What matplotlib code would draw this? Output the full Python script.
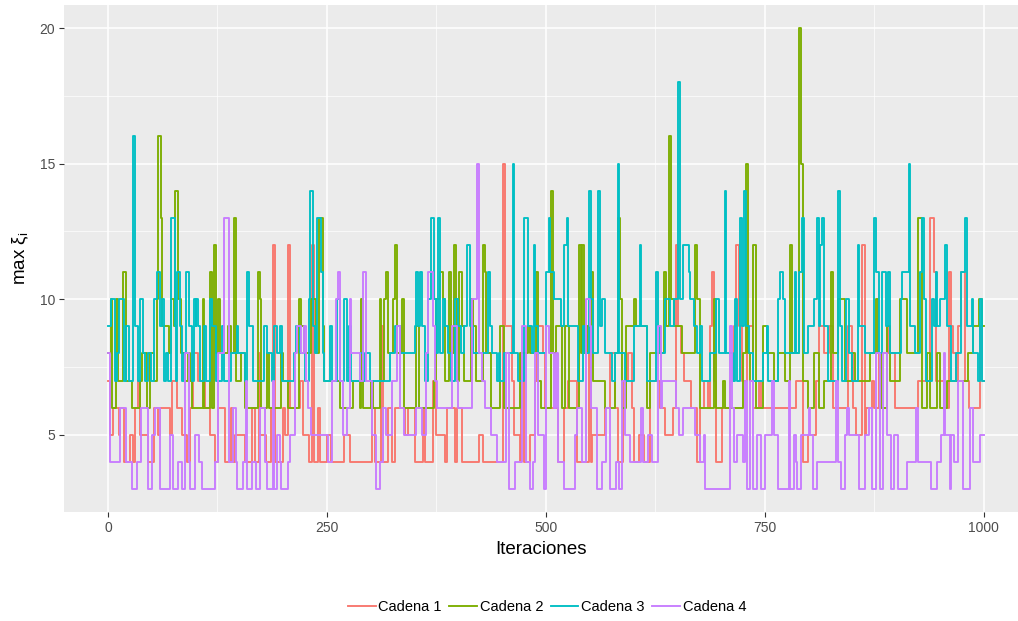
import matplotlib
matplotlib.use('Agg')
import matplotlib.pyplot as plt

plt.rcParams['font.family'] = ['Liberation Sans', 'DejaVu Sans']
plt.rcParams['mathtext.fontset'] = 'custom'
plt.rcParams['mathtext.rm'] = 'Liberation Sans'
plt.rcParams['mathtext.it'] = 'Liberation Sans:italic'

n_iter = 1000
nombres = ['Cadena 1', 'Cadena 2', 'Cadena 3', 'Cadena 4']
colores = ['#F8766D', '#7CAE00', '#00BFC4', '#C77CFF']
x_ticks = [0, 250, 500, 750, 1000]
y_ticks = [5, 10, 15, 20]

# each chain as (iteration where the value changes, new value)
cadena1 = [(0, 7), (2, 5), (6, 6), (12, 5), (14, 6), (18, 4), (25, 5), (29, 4), (31, 6), (34, 7), (37, 5), (46, 4),
           (52, 6), (57, 5), (59, 6), (71, 5), (73, 7), (79, 6), (84, 5), (90, 4),
           (94, 6), (97, 8), (103, 7), (111, 6), (117, 5), (122, 4), (126, 6), (134, 4), (140, 6), (143, 4), (145, 5),
           (156, 4), (164, 6), (168, 4), (172, 8), (174, 5), (180, 4), (186, 6), (188, 12),
           (191, 4), (200, 6), (202, 5), (206, 12), (208, 6), (219, 7), (223, 5), (229, 4), (233, 12), (235, 4),
           (240, 6), (242, 4), (250, 5), (255, 4), (270, 5), (276, 4),
           (301, 6), (305, 4), (312, 9), (314, 4), (320, 6), (324, 4), (328, 6), (339, 5), (343, 6), (350, 4),
           (360, 6), (362, 4), (371, 7), (375, 5),
           (385, 4), (387, 6), (396, 4), (398, 6), (404, 4), (424, 5), (428, 4), (451, 15), (453, 9), (461, 7),
           (464, 5), (470, 4), (472, 8), (475, 4),
           (482, 5), (487, 7), (490, 9), (497, 8), (499, 6), (514, 4), (521, 6), (525, 7), (535, 4), (549, 9),
           (551, 4), (553, 5), (567, 6), (573, 8),
           (579, 6), (582, 4), (588, 7), (594, 8), (598, 6), (601, 4), (606, 5), (612, 4), (619, 7), (630, 6),
           (636, 5), (645, 6), (648, 12), (651, 9), (654, 8), (658, 7), (666, 6), (673, 4),
           (676, 6), (681, 7), (685, 6), (687, 9), (690, 11), (692, 7), (694, 4), (701, 6), (710, 7), (715, 9),
           (717, 12), (720, 9), (724, 7), (730, 9), (736, 6), (743, 7), (746, 6),
           (786, 7), (794, 4), (799, 5), (808, 7), (812, 9), (818, 8), (823, 9), (828, 6), (845, 9), (849, 8),
           (851, 6), (854, 5), (861, 12), (864, 5),
           (866, 6), (872, 7), (875, 6), (880, 8), (889, 9), (891, 8), (898, 6), (925, 7), (938, 13), (943, 11),
           (945, 7), (955, 6), (960, 11), (963, 9), (965, 8), (968, 7), (971, 9), (974, 11), (979, 7), (983, 6),
           (996, 9), (998, 7)]

cadena2 = [(0, 8), (3, 10), (5, 6), (9, 10), (11, 7), (17, 11), (21, 7), (27, 6), (36, 7), (39, 8), (44, 6), (48, 8),
           (52, 7), (56, 10), (57, 16), (60, 13), (62, 9), (70, 8), (72, 10), (75, 9), (77, 14), (80, 10), (83, 8),
           (88, 7), (91, 8),
           (94, 7), (96, 6), (108, 10), (110, 6), (117, 11), (119, 6), (121, 12), (123, 8), (126, 10), (128, 8),
           (137, 9), (140, 8), (144, 13), (146, 7), (152, 8), (156, 6), (171, 11), (173, 10), (175, 6), (182, 8),
           (184, 6),
           (197, 8), (200, 7), (206, 6), (218, 10), (220, 9), (224, 8), (232, 10), (237, 8), (241, 13), (245, 9),
           (247, 7), (265, 6), (280, 7),
           (288, 6), (289, 10), (291, 6), (300, 7), (303, 6), (310, 10), (312, 7), (315, 10), (317, 11), (320, 8),
           (325, 10), (328, 12), (330, 8), (336, 10), (338, 6), (352, 9), (355, 6), (372, 7), (375, 10), (379, 11),
           (383, 10),
           (385, 7), (389, 11), (392, 8), (395, 12), (397, 10), (399, 7), (401, 11), (404, 9), (407, 7), (414, 10),
           (417, 9), (420, 7), (428, 12), (431, 11), (432, 8), (437, 6), (448, 9), (452, 6), (470, 8), (480, 9),
           (482, 8), (489, 11), (491, 7), (494, 6), (506, 14), (508, 8), (512, 9), (518, 6), (522, 9), (526, 6),
           (538, 12), (540, 8), (541, 12), (544, 8), (547, 9), (552, 11), (554, 7), (567, 6),
           (579, 8), (582, 13), (585, 10), (587, 6), (592, 9), (600, 10), (603, 9), (615, 6), (619, 8), (635, 11),
           (637, 9), (641, 16), (643, 10), (646, 9), (655, 8), (670, 12), (673, 10),
           (676, 6), (692, 10), (694, 6), (702, 7), (705, 6), (725, 8), (728, 15), (731, 8), (733, 7), (737, 12),
           (740, 6), (748, 9), (752, 8), (760, 7), (765, 8),
           (773, 7), (779, 12), (781, 8), (789, 20), (791, 15), (793, 7), (799, 6), (806, 8), (812, 6), (817, 7),
           (826, 11), (828, 8), (833, 10), (842, 7), (850, 8), (853, 7),
           (870, 8), (877, 10), (879, 8), (883, 6), (889, 9), (893, 7), (904, 10), (912, 8), (925, 13), (929, 6),
           (935, 8), (939, 6), (946, 8), (950, 6), (958, 7), (982, 8), (988, 9), (995, 10), (998, 9)]

cadena3 = [(0, 9), (4, 10), (8, 7), (10, 8), (13, 10), (18, 7), (21, 9), (24, 7), (28, 16), (31, 9), (34, 7), (36, 10),
           (40, 8), (42, 7), (46, 8), (49, 7), (52, 10), (56, 11), (59, 9), (62, 10), (64, 7), (66, 8), (69, 7),
           (72, 13), (76, 9), (78, 7), (79, 11), (82, 9), (84, 7), (87, 8), (89, 11), (93, 9), (96, 7), (98, 10),
           (100, 9), (101, 10), (103, 9), (105, 7), (110, 9), (112, 7), (117, 10), (119, 9), (123, 7), (130, 9),
           (133, 7), (141, 8), (147, 9), (149, 8), (156, 7), (159, 11), (161, 9), (166, 7), (178, 9), (182, 8),
           (187, 7),
           (190, 9), (193, 8), (196, 9), (199, 7), (212, 8), (215, 9), (219, 8), (225, 7), (229, 10), (231, 14),
           (234, 9), (236, 8), (239, 13), (243, 11), (245, 8), (247, 7), (254, 9), (256, 7), (261, 10), (265, 7),
           (269, 10), (273, 7), (275, 9), (277, 7),
           (288, 8), (291, 7), (294, 8), (299, 7), (322, 8), (328, 9), (333, 8), (350, 9), (352, 11), (354, 9),
           (356, 11), (358, 9), (362, 7), (365, 10), (369, 13), (372, 10), (374, 8), (377, 13), (379, 8), (382, 10),
           (385, 9), (388, 8), (392, 7), (396, 10), (400, 9), (403, 8), (406, 9), (410, 12), (413, 9), (417, 8),
           (434, 11), (436, 9), (438, 8), (444, 7), (446, 8), (448, 7), (452, 8), (462, 15), (464, 8), (468, 7),
           (475, 13), (479, 9),
           (484, 8), (486, 12), (488, 9), (491, 8), (500, 11), (503, 13), (505, 11), (509, 10), (517, 9), (521, 12),
           (524, 13), (525, 9), (537, 7), (542, 9), (545, 8), (549, 14), (551, 10), (554, 8), (560, 14), (562, 9),
           (564, 10), (567, 8), (576, 7),
           (579, 8), (582, 15), (584, 8), (590, 7), (600, 9), (607, 12), (609, 9), (615, 7), (626, 11), (628, 9),
           (630, 8), (636, 10), (642, 9), (646, 10), (651, 18), (653, 10), (656, 12), (663, 11), (665, 10), (669, 9),
           (672, 8),
           (676, 9), (678, 7), (687, 8), (694, 10), (698, 8), (704, 14), (706, 8), (714, 7), (716, 10), (718, 7),
           (722, 13), (724, 9), (726, 14), (729, 9), (732, 8), (736, 7), (748, 8), (752, 9), (754, 7), (765, 10),
           (767, 11), (771, 10),
           (773, 8), (784, 11), (786, 8), (789, 11), (792, 13), (795, 8), (799, 9), (806, 10), (809, 13), (812, 9),
           (813, 12), (815, 13), (817, 9), (822, 7), (834, 14), (836, 9), (838, 7), (843, 10), (846, 8), (849, 7),
           (856, 12), (858, 9), (864, 8),
           (875, 13), (877, 11), (880, 8), (884, 11), (888, 9), (891, 11), (893, 8), (905, 10), (907, 11), (914, 15),
           (916, 9), (921, 8), (927, 11), (929, 13), (932, 10), (934, 7), (941, 10), (943, 9), (945, 11), (947, 9),
           (950, 10), (956, 12), (958, 9), (962, 7), (968, 8), (974, 11), (979, 13), (981, 9), (986, 10), (988, 8),
           (993, 7), (996, 10), (998, 7)]

cadena4 = [(0, 8), (2, 4), (14, 6), (20, 4), (27, 3), (33, 4), (38, 6), (46, 3), (50, 5), (54, 6), (59, 3), (71, 5),
           (74, 3), (80, 4), (84, 3), (88, 8), (92, 4),
           (94, 3), (99, 5), (104, 4), (107, 3), (122, 4), (126, 8), (132, 13), (138, 4), (143, 6), (146, 4),
           (147, 3), (154, 4), (157, 7), (159, 3), (164, 4), (169, 3), (173, 6), (179, 4), (181, 3), (188, 7),
           (190, 3), (193, 5), (196, 4), (198, 3), (205, 4), (208, 5), (213, 8), (216, 9), (220, 8), (224, 9),
           (226, 7), (228, 6), (232, 5), (251, 4), (256, 7), (260, 10), (263, 11), (265, 7), (268, 5), (273, 6),
           (276, 10), (278, 8),
           (288, 7), (291, 11), (295, 7), (302, 5), (306, 3), (310, 4), (314, 6), (317, 5), (324, 7), (330, 9),
           (333, 6), (338, 5), (352, 6), (358, 5), (363, 8), (365, 11), (371, 9), (373, 7), (376, 6),
           (393, 9), (398, 7), (400, 6), (416, 10), (421, 15), (424, 8), (427, 7), (430, 6), (437, 5), (444, 4),
           (454, 8), (458, 3), (465, 4), (473, 9), (477, 4),
           (482, 3), (485, 4), (488, 8), (491, 5), (498, 3), (500, 9), (504, 8), (509, 6), (512, 8), (514, 4),
           (521, 3), (533, 5), (536, 6), (541, 4), (546, 10), (550, 9), (552, 6), (558, 3), (564, 4), (569, 6),
           (573, 3), (580, 4), (584, 3), (587, 7), (590, 5), (596, 4), (609, 6), (611, 4), (616, 5), (621, 4),
           (628, 9), (631, 6), (633, 7), (649, 6), (652, 5), (656, 6), (670, 5),
           (676, 4), (680, 5), (682, 3), (710, 9), (712, 6), (715, 4), (718, 5), (725, 4), (727, 7), (730, 3),
           (733, 7), (737, 3), (741, 5), (746, 3), (750, 5), (758, 7), (760, 5), (765, 3),
           (777, 7), (779, 3), (783, 5), (785, 4), (787, 3), (791, 5), (800, 6), (802, 5), (805, 3), (809, 4),
           (831, 7), (833, 4), (837, 3), (841, 5), (844, 6), (846, 5), (858, 3), (864, 5),
           (869, 6), (872, 3), (877, 8), (881, 3), (885, 8), (889, 5), (894, 3), (897, 5), (902, 3), (912, 4),
           (923, 6), (925, 4), (940, 3), (946, 4), (951, 5), (954, 8), (956, 5), (961, 3), (963, 5), (966, 4),
           (970, 7), (976, 3), (984, 6), (988, 4), (996, 5)]

cadenas = [cadena1, cadena2, cadena3, cadena4]

fig = plt.figure(figsize=(10.18, 6.21), dpi=100)
ax = fig.add_axes([64.2 / 1018, 1 - 512 / 621, 1 - 64.2 / 1018, 507 / 621])
ax.set_facecolor('#EBEBEB')
for s in ax.spines.values():
    s.set_visible(False)

for pares, nombre, color in zip(cadenas, nombres, colores):
    it = [p[0] for p in pares] + [n_iter]
    val = [p[1] for p in pares]
    val = val + [val[-1]]
    ax.step(it, val, where='post', color=color, lw=1.35, label=nombre)

ax.set_xlim(-50, 1039)
ax.set_ylim(2.15, 20.85)
ax.set_xticks(x_ticks)
ax.set_yticks(y_ticks)
ax.set_xticks([125, 375, 625, 875], minor=True)
ax.set_yticks([7.5, 12.5, 17.5], minor=True)
ax.set_axisbelow(True)
ax.grid(which='major', color='white', lw=1.1)
ax.grid(which='minor', color='white', lw=0.5)
ax.tick_params(which='minor', length=0)
ax.tick_params(which='major', length=3.5, width=0.8, color='#333333',
               labelsize=10, labelcolor='#4D4D4D', pad=3)

ax.set_xlabel('Iteraciones', fontsize=13.5, labelpad=4)
ax.set_ylabel('max $\\mathrm{ξ}_\\mathrm{i}$', fontsize=13.5, labelpad=6)

fig.legend(loc='center', bbox_to_anchor=(547 / 1018, 1 - 607 / 621), ncol=4, frameon=False,
           fontsize=10.5, handlelength=1.9, handletextpad=0.2, columnspacing=0.5)

fig.savefig('out.png', dpi=100)
